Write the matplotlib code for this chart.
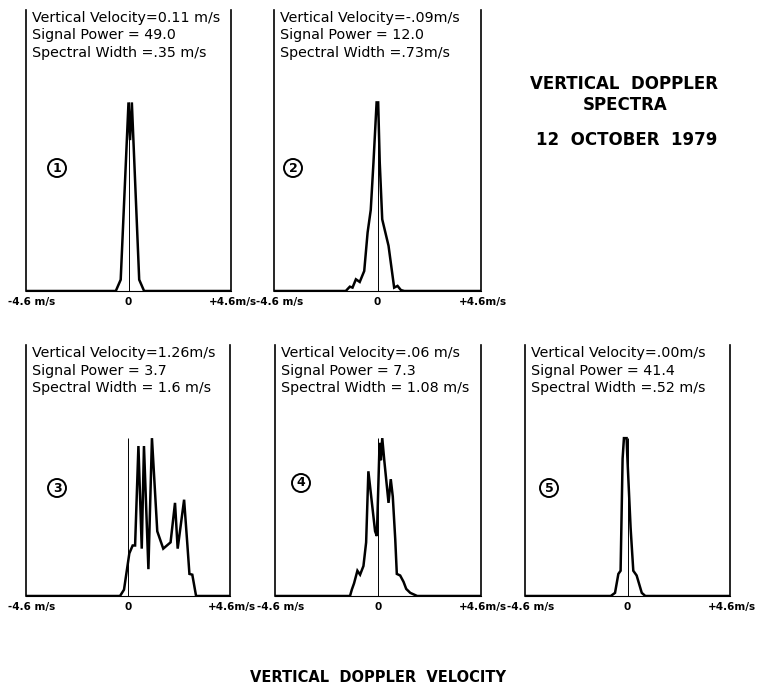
import matplotlib
matplotlib.use("Agg")
import matplotlib.pyplot as plt
import matplotlib.transforms as mtransforms

W, H = 766, 693

# spectra: velocity (m/s) and normalised power
v1 = [-4.6, -0.57, -0.35, 0.0, 0.07, 0.15, 0.48, 0.70, 4.6]
p1 = [0, 0, 0.06, 1.0, 0.80, 1.0, 0.06, 0, 0]

v2 = [-4.6, -1.41, -1.23, -1.11, -0.96, -0.79, -0.59, -0.44, -0.30, -0.18, -0.04,
      0.03, 0.10, 0.21, 0.49, 0.74, 0.89, 1.04, 1.19, 4.6]
p2 = [0, 0, 0.023, 0.018, 0.062, 0.048, 0.106, 0.31, 0.43, 0.68, 1.0,
      1.0, 0.68, 0.38, 0.24, 0.018, 0.027, 0.005, 0, 0]

v3 = [-4.6, -0.36, -0.18, 0.06, 0.21, 0.32, 0.47, 0.62, 0.72, 0.92, 1.08, 1.32,
      1.59, 1.92, 2.12, 2.24, 2.53, 2.68, 2.77, 2.90, 3.07, 4.6]
p3 = [0, 0, 0.04, 0.27, 0.32, 0.32, 0.95, 0.30, 0.95, 0.17, 1.0, 0.41,
      0.30, 0.34, 0.59, 0.30, 0.61, 0.32, 0.14, 0.135, 0, 0]

v4 = [-4.6, -1.25, -1.17, -1.07, -0.92, -0.80, -0.65, -0.53, -0.43, -0.13, -0.05,
      0.07, 0.13, 0.19, 0.28, 0.47, 0.57, 0.66, 0.77, 0.84, 0.99, 1.14, 1.26,
      1.44, 1.75, 4.6]
p4 = [0, 0, 0.04, 0.08, 0.16, 0.135, 0.19, 0.34, 0.79, 0.41, 0.38,
      0.97, 0.86, 1.0, 0.86, 0.59, 0.74, 0.63, 0.36, 0.14, 0.13, 0.09, 0.045,
      0.02, 0, 0]

v5 = [-4.6, -0.75, -0.56, -0.41, -0.31, -0.22, -0.16, -0.04, -0.01, 0.14, 0.26,
      0.41, 0.64, 0.80, 4.6]
p5 = [0, 0, 0.02, 0.14, 0.16, 0.87, 1.0, 1.0, 0.89, 0.43, 0.16,
      0.13, 0.02, 0, 0]

velocities = [v1, v2, v3, v4, v5]
powers = [p1, p2, p3, p4, p5]

info = [
    ["Vertical Velocity=0.11 m/s", "Signal Power = 49.0", "Spectral Width =.35 m/s"],
    ["Vertical Velocity=-.09m/s", "Signal Power = 12.0", "Spectral Width =.73m/s"],
    ["Vertical Velocity=1.26m/s", "Signal Power = 3.7", "Spectral Width = 1.6 m/s"],
    ["Vertical Velocity=.06 m/s", "Signal Power = 7.3", "Spectral Width = 1.08 m/s"],
    ["Vertical Velocity=.00m/s", "Signal Power = 41.4", "Spectral Width =.52 m/s"],
]
numbers = ["1", "2", "3", "4", "5"]
tick_vals = [-4.6, 0, 4.6]
tick_labels = ["-4.6 m/s", "0", "+4.6m/s"]

# panel boxes in pixels: left, top, right, bottom
boxes = [(26, 10, 231, 291), (274, 10, 481, 291),
         (26, 345, 230, 596), (275, 345, 481, 596), (525, 345, 730, 596)]
ytops = [1.49, 1.49, 1.59, 1.59, 1.59]
circles = [(57, 168), (293, 168), (57, 488), (301, 483), (549, 488)]

fig = plt.figure(figsize=(W / 100, H / 100), dpi=100)

for i in range(5):
    l, t, r, b = boxes[i]
    ax = fig.add_axes([l / W, 1 - b / H, (r - l) / W, (b - t) / H])
    ax.plot(velocities[i], powers[i], color="black", lw=1.8, solid_joinstyle="miter")
    ax.vlines(0, 0, max(powers[i]), color="black", lw=0.7)
    ax.set_xlim(-4.6, 4.6)
    ax.set_ylim(0, ytops[i])
    ax.spines["top"].set_visible(False)
    ax.spines["left"].set_linewidth(1.2)
    ax.spines["right"].set_linewidth(1.2)
    ax.spines["bottom"].set_linewidth(0.8)
    ax.set_yticks([])
    ax.set_xticks(tick_vals)
    ax.set_xticklabels(tick_labels, fontsize=7.5, fontweight="bold")
    ax.tick_params(axis="x", length=0, pad=4)
    # nudge the edge labels inwards like the original lettering
    lbls = ax.get_xticklabels()
    lbls[0].set_transform(lbls[0].get_transform() +
                          mtransforms.ScaledTranslation(6 / 100, 0, fig.dpi_scale_trans))
    lbls[2].set_transform(lbls[2].get_transform() +
                          mtransforms.ScaledTranslation(2 / 100, 0, fig.dpi_scale_trans))

    for k, line in enumerate(info[i]):
        fig.text((l + 6) / W, 1 - (t + 8 + 17.5 * k) / H, line,
                 fontsize=10.3, va="center", ha="left")

    cx, cy = circles[i]
    fig.text(cx / W, 1 - cy / H, numbers[i], fontsize=9, fontweight="bold",
             ha="center", va="center",
             bbox=dict(boxstyle="circle,pad=0.2", fc="white", ec="black", lw=1.4))

fig.text(624 / W, 1 - 84 / H, "VERTICAL  DOPPLER", fontsize=12, fontweight="bold",
         ha="center", va="center")
fig.text(625 / W, 1 - 105 / H, "SPECTRA", fontsize=12, fontweight="bold",
         ha="center", va="center")
fig.text(627 / W, 1 - 140 / H, "12  OCTOBER  1979", fontsize=12, fontweight="bold",
         ha="center", va="center")
fig.text(378 / W, 1 - 677 / H, "VERTICAL  DOPPLER  VELOCITY", fontsize=10.5,
         fontweight="bold", ha="center", va="center")

fig.savefig("out.png", dpi=100)
